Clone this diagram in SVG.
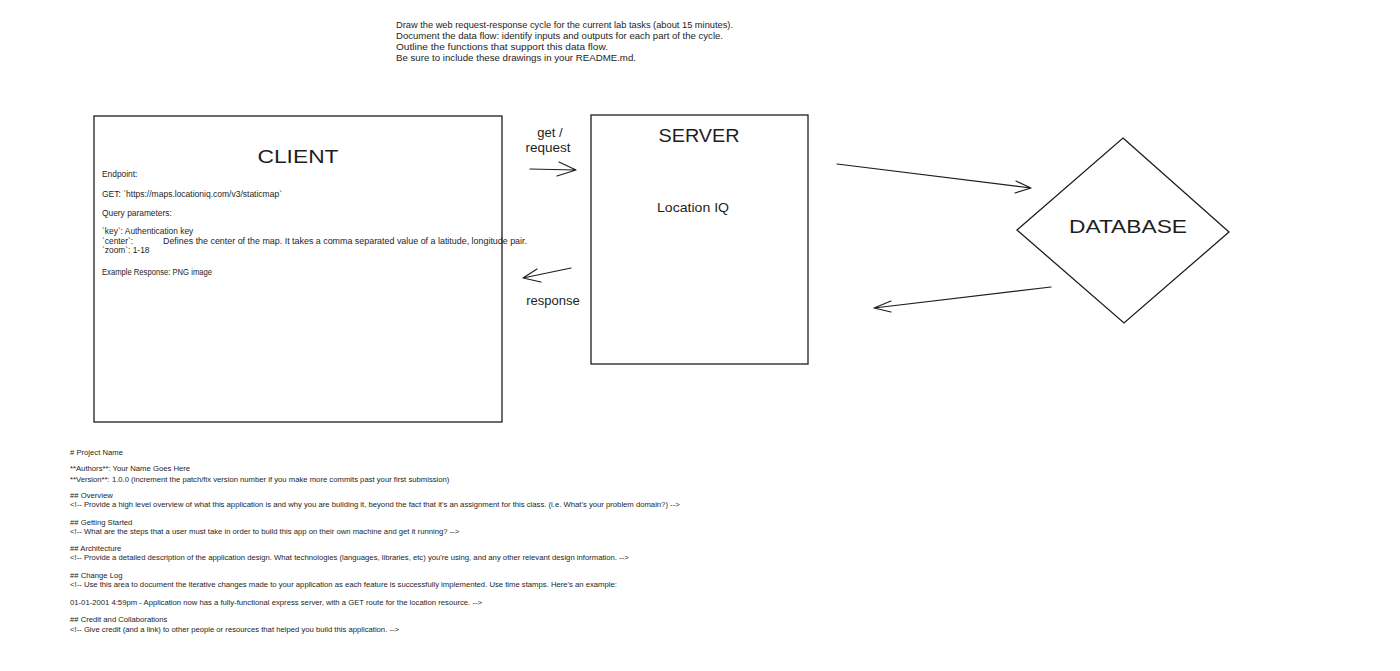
<svg xmlns="http://www.w3.org/2000/svg" width="1400" height="671" viewBox="0 0 1400 671">
<style>
text{font-family:"Liberation Sans","Noto Sans",sans-serif;fill:#1e1e1e}
.t{font-size:9px}
.c{font-size:8.4px}
.b{font-size:7.7px}
.title{font-size:19px;text-anchor:middle}
.lbl{font-size:13px;text-anchor:middle}
.shape{fill:#fff;stroke:#1e1e1e;stroke-width:1.3}
.conn{fill:none;stroke:#1e1e1e;stroke-width:1.2;stroke-linecap:round;stroke-linejoin:round}
</style>
<rect width="1400" height="671" fill="#fff"/>
<g id="instructions">
<text class="t" x="396" y="28" textLength="337" lengthAdjust="spacingAndGlyphs">Draw the web request-response cycle for the current lab tasks (about 15 minutes).</text>
<text class="t" x="396" y="39" textLength="327" lengthAdjust="spacingAndGlyphs">Document the data flow: identify inputs and outputs for each part of the cycle.</text>
<text class="t" x="396" y="50" textLength="212" lengthAdjust="spacingAndGlyphs">Outline the functions that support this data flow.</text>
<text class="t" x="396" y="61" textLength="240" lengthAdjust="spacingAndGlyphs">Be sure to include these drawings in your README.md.</text>
</g>
<g id="client">
<rect class="shape" x="94" y="116" width="408" height="306"/>
<text class="title" x="298" y="163" textLength="81" lengthAdjust="spacingAndGlyphs">CLIENT</text>
<text class="c" x="102" y="177">Endpoint:</text>
<text class="c" x="102" y="197" textLength="180" lengthAdjust="spacingAndGlyphs">GET: `https://maps.locationiq.com/v3/staticmap`</text>
<text class="c" x="102" y="216">Query parameters:</text>
<text class="c" x="102" y="234">`key`: Authentication key</text>
<text class="c" x="102" y="244">`center`:</text>
<text class="c" x="163" y="244" textLength="364" lengthAdjust="spacingAndGlyphs">Defines the center of the map. It takes a comma separated value of a latitude, longitude pair.</text>
<text class="c" x="102" y="253">`zoom`: 1-18</text>
<text class="c" x="102" y="275" textLength="110" lengthAdjust="spacingAndGlyphs">Example Response: PNG image</text>
</g>
<g id="server">
<rect class="shape" x="591" y="115" width="217" height="249"/>
<text class="title" x="699" y="142" textLength="81" lengthAdjust="spacingAndGlyphs">SERVER</text>
<text class="lbl" x="693" y="212" textLength="72" lengthAdjust="spacingAndGlyphs">Location IQ</text>
</g>
<g id="database">
<polygon class="shape" points="1123,138 1229,232 1124,323 1017,230"/>
<text class="title" x="1128" y="233" textLength="118" lengthAdjust="spacingAndGlyphs">DATABASE</text>
</g>
<g id="connectors">
<path class="conn" d="M530,169 L576,170 M559,162 L576,170 L557,176"/>
<path class="conn" d="M571,268 L523,278 M537,269 L523,278 L541,282"/>
<path class="conn" d="M837,164 L1031,188 M1016,181 L1031,188 L1015,193"/>
<path class="conn" d="M1051,287 L874,308 M891,301 L874,308 L891,312"/>
</g>
<g id="connector-labels">
<text class="lbl" x="550" y="137">get /</text>
<text class="lbl" x="548" y="152" textLength="45" lengthAdjust="spacingAndGlyphs">request</text>
<text class="lbl" x="553" y="305">response</text>
</g>
<g id="readme">
<text class="b" x="70" y="455"># Project Name</text>
<text class="b" x="70" y="471">**Authors**: Your Name Goes Here</text>
<text class="b" x="70" y="482">**Version**: 1.0.0 (increment the patch/fix version number if you make more commits past your first submission)</text>
<text class="b" x="70" y="498">## Overview</text>
<text class="b" x="70" y="507">&lt;!-- Provide a high level overview of what this application is and why you are building it, beyond the fact that it's an assignment for this class. (i.e. What's your problem domain?) --&gt;</text>
<text class="b" x="70" y="525">## Getting Started</text>
<text class="b" x="70" y="534">&lt;!-- What are the steps that a user must take in order to build this app on their own machine and get it running? --&gt;</text>
<text class="b" x="70" y="551">## Architecture</text>
<text class="b" x="70" y="560">&lt;!-- Provide a detailed description of the application design. What technologies (languages, libraries, etc) you're using, and any other relevant design information. --&gt;</text>
<text class="b" x="70" y="578">## Change Log</text>
<text class="b" x="70" y="587">&lt;!-- Use this area to document the iterative changes made to your application as each feature is successfully implemented. Use time stamps. Here's an example:</text>
<text class="b" x="70" y="605">01-01-2001 4:59pm - Application now has a fully-functional express server, with a GET route for the location resource. --&gt;</text>
<text class="b" x="70" y="622">## Credit and Collaborations</text>
<text class="b" x="70" y="632">&lt;!-- Give credit (and a link) to other people or resources that helped you build this application. --&gt;</text>
</g>
</svg>
